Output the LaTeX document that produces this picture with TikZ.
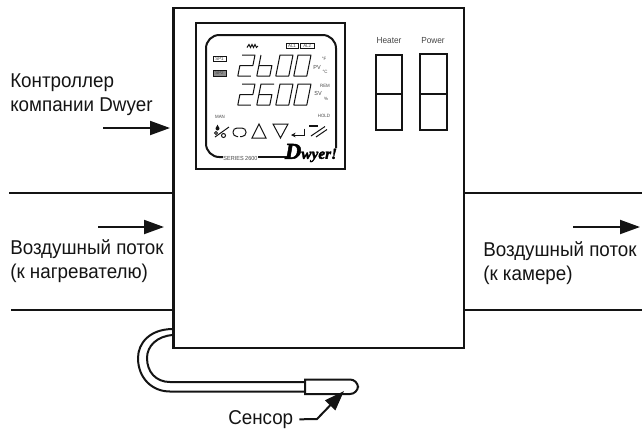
\documentclass[tikz,border=0pt]{standalone}
\usepackage{fontspec}
\setmainfont{Liberation Sans}[FakeStretch=0.94]
\newfontfamily\logofont{Liberation Serif}[FakeBold=2.2]
\usepackage{xcolor}
\usepackage{tikz}
\usetikzlibrary{arrows.meta, positioning, calc}
\definecolor{myink}{RGB}{20,20,20}
\definecolor{mygrey}{RGB}{70,70,70}
\tikzset{
  wall/.style={line width=1.75pt, color=myink},
  bezel/.style={line width=1.5pt, color=myink},
  tube/.style={line width=1.5pt, color=myink},
  flowarrow/.style={-{Triangle[length=15pt, width=10.5pt]}, line width=1.5pt, color=myink},
  caption/.style={font=\fontsize{15}{18}\selectfont, align=left, anchor=north west, inner sep=0pt, color=myink},
  tinytext/.style={font=\fontsize{3.5}{4}\selectfont, inner sep=0pt, color=mygrey},
  smalltext/.style={font=\fontsize{4.4}{5}\selectfont, inner sep=0pt, color=mygrey},
  headtext/.style={font=\fontsize{6.6}{7}\selectfont, inner sep=0pt, color=mygrey},
  tagbox/.style={line width=0.6pt, color=myink},
  lcdseg/.style={line width=0.75pt, color=myink, line join=round, xslant=0.2},
  icon/.style={line width=0.75pt, color=myink},
  pics/lcdtwo/.style={code={\draw[lcdseg] (0,0) -- (13,0) -- (13,10.5) -- (0,10.5) -- (0,21) -- (13,21);}},
  pics/lcdbee/.style={code={\draw[lcdseg] (0,0) -- (0,21) -- (13,21) -- (13,10.5) -- (0,10.5);}},
  pics/lcdsix/.style={code={\draw[lcdseg] (13,0) -- (0,0) -- (0,21) -- (13,21) -- (13,10.5) -- (0,10.5);}},
  pics/lcdzero/.style={code={\draw[lcdseg] (0,0) rectangle (13,21);}}
}
\begin{document}
\begin{tikzpicture}[x=0.75pt, y=-0.75pt]
  \useasboundingbox (0,0) rectangle (642,430);

  % duct
  \coordinate (ductTL) at (9,193);
  \coordinate (ductBL) at (11,310);
  \coordinate (ductTR) at (642,193);
  \coordinate (ductBR) at (642,310);
  \draw[wall] (ductTL) -- (173,193);
  \draw[wall] (ductBL) -- (173,310);
  \draw[wall] (464,193) -- (ductTR);
  \draw[wall] (464,310) -- (ductBR);

  % controller case
  \draw[wall] (173.5,8) rectangle (464,348);
  \draw[wall] (196,23) rectangle (345,169);

  % lcd window
  \draw[bezel, rounded corners=10] (223,157) -- (206,157) -- (206,35) -- (336,35) -- (336,148);
  \draw[bezel] (258,157) -- (288,157);
  \node[smalltext] (series) at (240.5,158) {SERIES 2600};
  \node[font=\logofont\fontsize{11.5}{12}\selectfont\bfseries\itshape, inner sep=0pt, color=black] (logo) at (311,153) {{\fontsize{17}{17}\selectfont D}wyer!};

  \draw[icon] (247,47.5) -- (249,44.5) -- (250.5,47.5) -- (252,44.5) -- (253.5,47.5) -- (255,44.5) -- (256.5,47.5) -- (258,46);
  \draw[tagbox] (286,43) rectangle (298,48.5);
  \node[tinytext] (alone) at (292,45.8) {AL1};
  \draw[tagbox] (300.5,43) rectangle (314,48.5);
  \node[tinytext] (altwo) at (307.2,45.8) {AL2};
  \draw[tagbox] (213,56) rectangle (226,61.5);
  \node[tinytext] (spone) at (219.5,58.8) {SP1};
  \draw[tagbox, fill=black!45] (213,70.5) rectangle (226,76);
  \node[tinytext] (sptwo) at (219.5,73.3) {SP2};

  % digits
  \path (242,55) pic {lcdtwo} (261,55) pic {lcdbee};
  \path (242,84) pic {lcdtwo} (261,84) pic {lcdsix};
  \foreach \dx in {280,298} {
    \path (\dx,55) pic {lcdzero} (\dx,84) pic {lcdzero};
  }

  \node[smalltext] (pv) at (317,67) {PV};
  \node[tinytext] (degf) at (324,59) {°F};
  \node[tinytext] (degc) at (325,72) {°C};
  \node[tinytext] (rem) at (325,86) {REM};
  \node[smalltext] (sv) at (318,93) {SV};
  \node[tinytext] (pct) at (326,99) {\%};
  \node[tinytext] (man) at (220,117) {MAN};
  \node[tinytext] (hold) at (324,116) {HOLD};

  % keys
  \fill[myink] (217.5,128.5) circle (2);
  \fill[myink] (217.5,124.5) -- (216,127.5) -- (219,127.5) -- cycle;
  \draw[icon] (215,137) -- (229,127);
  \draw[icon] (223.5,135.5) circle (2);
  \draw[icon] (216,133) circle (1.5);
  \draw[icon, rounded corners=3] (238,136.5) -- (233,136.5) -- (233,128) -- (246,128) -- (246,136.5) -- (240,136.5);
  \draw[icon] (252,138) -- (259,124) -- (266,138) -- cycle;
  \draw[icon] (273,124) -- (288,124) -- (280.5,138) -- cycle;
  \draw[icon, -{Stealth[length=3.5pt, width=3.5pt]}] (304,128.5) -- (304,135) -- (291,135);
  \draw[line width=1.1pt, color=myink] (309,126) -- (318,126);
  \draw[icon] (311,136) -- (325,126.5);
  \draw[icon] (316,137) -- (327,129.5);

  % indicators
  \node[headtext] (heater) at (389,41) {Heater};
  \node[headtext] (power) at (433,41) {Power};
  \draw[bezel] (376,55) rectangle (402,130);
  \draw[bezel] (376,94) -- (402,94);
  \draw[bezel] (420,54) rectangle (447,130);
  \draw[bezel] (420,94) -- (447,94);

  % probe
  \coordinate (probeTop) at (173,329);
  \coordinate (probeIn) at (173,335);
  \draw[tube] (probeTop) .. controls (150,329) and (138,343) .. (138,358) .. controls (138,378) and (152,391.5) .. (170,391.5) -- (305,391.5);
  \draw[tube] (probeIn) .. controls (157,336) and (147,346) .. (147,358) .. controls (147,372) and (156,382) .. (170,382) -- (305,382);
  \draw[tube, fill=white] (305,379.5) [rounded corners=6] -- (358,379.5) -- (358,394) [sharp corners] -- (305,394) -- cycle;

  % labels
  \node[caption] (controller) at (10,73) {Контроллер\\компании Dwyer};
  \node[caption] (airin) at (10,239) {Воздушный поток\\(к нагревателю)};
  \node[caption] (airout) at (483,241) {Воздушный поток\\(к камере)};
  \node[caption] (sensor) at (228,410) {Сенсор};

  \coordinate (ctrlfrom) at (103,128);
  \coordinate (ctrlto) at (170,128);
  \coordinate (infrom) at (98,227);
  \coordinate (into) at (164,227);
  \coordinate (outfrom) at (573,227);
  \coordinate (outto) at (640,227);
  \draw[flowarrow] (ctrlfrom) -- (ctrlto);
  \draw[flowarrow] (infrom) -- (into);
  \draw[flowarrow] (outfrom) -- (outto);

  \coordinate (probetip) at (344,391);
  \draw[flowarrow] ($(sensor.east)+(6,0)$) -- (317,419) -- (probetip);
\end{tikzpicture}
\end{document}
